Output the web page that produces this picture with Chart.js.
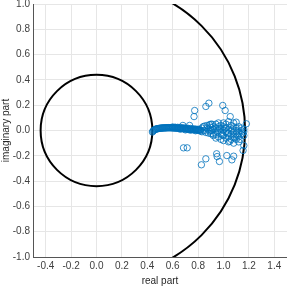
<!DOCTYPE html>
<html>
<head>
<meta charset="utf-8">
<script src="https://cdn.jsdelivr.net/npm/chart.js@4"></script>
<style>
  html, body { margin: 0; padding: 0; background: #fff; }
  #wrap { width: 287px; height: 287px; }
</style>
</head>
<body>
<div id="wrap"><canvas id="poles"></canvas></div>
<script>
// tick labels
const xTicks = [-0.4, -0.2, 0.0, 0.2, 0.4, 0.6, 0.8, 1.0, 1.2, 1.4];
const yTicks = [-1.0, -0.8, -0.6, -0.4, -0.2, 0.0, 0.2, 0.4, 0.6, 0.8, 1.0];

// radii of the two reference circles (centred at origin)
const innerRadius = 0.44;
const outerRadius = 1.17;

// eigenvalues: real and imaginary parts
const realPart = [
    // tail
    0.440, 0.445, 0.450, 0.455, 0.460, 0.465, 0.470, 0.475, 0.480, 0.485,
    0.490, 0.495, 0.500, 0.505, 0.510, 0.515, 0.520, 0.525, 0.530, 0.535,
    0.540, 0.545, 0.550, 0.555, 0.560, 0.565, 0.570, 0.575, 0.580, 0.585,
    0.590, 0.595, 0.600, 0.605, 0.610, 0.615, 0.620, 0.625, 0.630, 0.635,
    0.640, 0.645, 0.650, 0.655, 0.660, 0.665, 0.670, 0.675, 0.680, 0.685,
    0.690, 0.695, 0.700, 0.705, 0.710, 0.715, 0.720, 0.725, 0.730, 0.735,
    0.740, 0.745, 0.750, 0.755, 0.760, 0.765, 0.770, 0.775, 0.780, 0.785,
    0.790, 0.795, 0.800, 0.805, 0.810, 0.815, 0.820,
    0.60, 0.62, 0.64, 0.66, 0.68, 0.70, 0.72, 0.74, 0.76, 0.78, 0.80,
    0.66, 0.70, 0.74, 0.78, 0.82,
    // wedge
    0.83, 0.83, 0.84, 0.85, 0.85, 0.86, 0.87, 0.87, 0.88, 0.88,
    0.89, 0.89, 0.90, 0.90, 0.91, 0.91, 0.92, 0.92,
    // cluster
    0.90, 0.90, 0.92, 0.92, 0.94, 0.94, 0.94, 0.94,
    0.96, 0.96, 0.96, 0.96, 0.98, 0.98, 0.98, 0.98,
    1.00, 1.00, 1.00, 1.00, 1.00, 1.02, 1.02, 1.02, 1.02,
    1.04, 1.04, 1.04, 1.04, 1.04, 1.06, 1.06, 1.06, 1.06,
    1.08, 1.08, 1.08, 1.08, 1.08, 1.10, 1.10, 1.10, 1.10,
    1.12, 1.12, 1.12, 1.12, 1.14, 1.14, 1.14, 1.16, 1.16, 1.16,
    0.95, 0.97, 0.99, 1.01, 1.03, 1.05, 1.07, 1.09, 1.11, 1.13, 1.15,
    // outliers
    0.773, 0.768, 0.861, 0.885, 0.994, 1.013, 1.053, 1.10, 1.18, 0.68, 0.733,
    0.685, 0.714, 0.826, 0.861, 0.946, 0.95, 0.968, 1.026, 1.066, 1.08, 1.154, 1.16
];
const imagPart = [
    // tail
    -0.012, -0.005, 0.000, 0.004, 0.008, 0.010, 0.012, 0.013, 0.014, 0.015,
    0.016, 0.017, 0.018, 0.018, 0.019, 0.019, 0.020, 0.020, 0.020, 0.021,
    0.021, 0.021, 0.021, 0.022, 0.022, 0.022, 0.022, 0.022, 0.022, 0.022,
    0.022, 0.021, 0.021, 0.021, 0.021, 0.020, 0.020, 0.020, 0.019, 0.019,
    0.019, 0.018, 0.018, 0.018, 0.017, 0.017, 0.016, 0.016, 0.015, 0.015,
    0.014, 0.014, 0.013, 0.013, 0.012, 0.012, 0.011, 0.011, 0.010, 0.010,
    0.009, 0.009, 0.008, 0.008, 0.007, 0.007, 0.006, 0.006, 0.005, 0.005,
    0.005, 0.004, 0.004, 0.004, 0.003, 0.003, 0.003,
    0.028, 0.026, 0.025, 0.024, 0.022, 0.020, 0.018, 0.016, 0.014, 0.012, 0.010,
    0.010, 0.005, 0.002, -0.002, -0.005,
    // wedge
    0.02, -0.01, 0.03, 0.00, 0.035, -0.015, 0.02, 0.04, -0.02, 0.01,
    0.045, -0.005, 0.025, -0.025, 0.05, 0.00, -0.03, 0.03,
    // cluster
    0.00, 0.05, 0.01, -0.04, 0.02, -0.03, 0.05, -0.06,
    0.00, 0.03, -0.05, 0.06, 0.01, -0.02, -0.07, 0.04,
    0.00, -0.04, 0.03, -0.08, 0.06, -0.01, 0.02, -0.06, 0.05,
    -0.02, 0.01, -0.09, 0.07, -0.05, 0.00, -0.03, -0.07, 0.04,
    -0.01, -0.05, -0.10, 0.03, 0.06, 0.00, -0.03, -0.07, 0.02,
    -0.01, -0.05, 0.03, -0.09, 0.00, -0.03, 0.02, -0.01, 0.01, -0.04,
    -0.01, 0.015, -0.035, 0.02, -0.025, -0.085, 0.01, -0.06, -0.04, -0.07, -0.02,
    // outliers
    0.158, 0.11, 0.19, 0.216, 0.198, 0.158, 0.11, 0.066, 0.053, 0.04, 0.04,
    -0.137, -0.137, -0.271, -0.224, -0.184, -0.206, -0.245, -0.198, -0.232, -0.203, -0.158, -0.119
];

const circlePlugin = {
    id: 'circles',
    beforeDatasetsDraw(chart) {
        const ctx = chart.ctx;
        const area = chart.chartArea;
        const x = chart.scales.x;
        const y = chart.scales.y;
        const cx = x.getPixelForValue(0);
        const cy = y.getPixelForValue(0);
        ctx.save();
        ctx.beginPath();
        ctx.rect(area.left, area.top, area.right - area.left, area.bottom - area.top);
        ctx.clip();
        ctx.strokeStyle = '#000';
        ctx.lineWidth = 2;
        [innerRadius, outerRadius].forEach(r => {
            const rx = x.getPixelForValue(r) - cx;
            const ry = cy - y.getPixelForValue(r);
            ctx.beginPath();
            ctx.ellipse(cx, cy, rx, ry, 0, 0, Math.PI * 2);
            ctx.stroke();
        });
        ctx.restore();
    }
};

const tickFont = { family: 'Liberation Sans, Arial, sans-serif', size: 10 };
const titleFont = { family: 'Liberation Sans, Arial, sans-serif', size: 10 };

new Chart(document.getElementById('poles'), {
    type: 'scatter',
    data: {
        datasets: [{
            data: realPart.map((v, i) => ({ x: v, y: imagPart[i] })),
            borderColor: '#0072BD',
            backgroundColor: 'rgba(0,0,0,0)',
            borderWidth: 0.8,
            pointRadius: 3.2,
            pointHoverRadius: 3.2
        }]
    },
    options: {
        responsive: true,
        maintainAspectRatio: false,
        animation: false,
        layout: { autoPadding: false, padding: { top: 4, right: 0, left: 0, bottom: 0 } },
        plugins: {
            legend: { display: false },
            tooltip: { enabled: false }
        },
        scales: {
            x: {
                type: 'linear',
                min: -0.5,
                max: 1.5,
                afterBuildTicks: scale => { scale.ticks = xTicks.map(v => ({ value: v })); },
                afterFit: scale => {
                    scale.height = 30;
                    scale.paddingLeft = 0;
                    scale.paddingRight = 0;
                },
                ticks: {
                    callback: v => v.toFixed(1),
                    font: tickFont,
                    color: '#404040',
                    padding: 3,
                    maxRotation: 0
                },
                grid: { color: '#e6e6e6', drawTicks: false },
                border: { display: true, color: '#555', width: 1 },
                title: {
                    display: true,
                    text: 'real part',
                    font: titleFont,
                    color: '#262626',
                    padding: { top: 1, bottom: 0 }
                }
            },
            y: {
                type: 'linear',
                min: -1,
                max: 1,
                afterBuildTicks: scale => { scale.ticks = yTicks.map(v => ({ value: v })); },
                afterFit: scale => {
                    scale.width = 33;
                    scale.paddingTop = 0;
                    scale.paddingBottom = 0;
                },
                ticks: {
                    callback: v => v.toFixed(1),
                    font: tickFont,
                    color: '#404040',
                    padding: 3
                },
                grid: { color: '#e6e6e6', drawTicks: false },
                border: { display: true, color: '#555', width: 1 },
                title: {
                    display: true,
                    text: 'imaginary part',
                    font: titleFont,
                    color: '#262626',
                    padding: { top: 0, bottom: 1 }
                }
            }
        }
    },
    plugins: [circlePlugin]
});
</script>
</body>
</html>
